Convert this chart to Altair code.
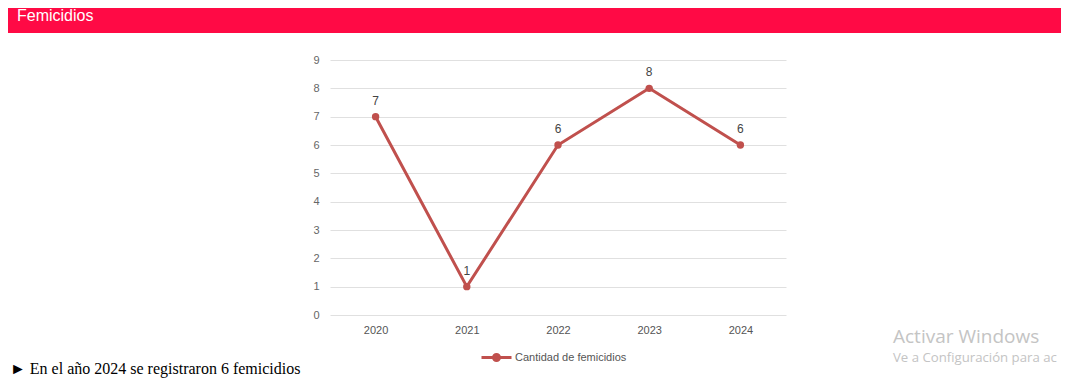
import altair as alt
import pandas as pd

# ---- data ----
years = ["2020", "2021", "2022", "2023", "2024"]
values = [7, 1, 6, 8, 6]
series_name = "Cantidad de femicidios"
y_ticks = [0, 1, 2, 3, 4, 5, 6, 7, 8, 9]
header_title = ["Femicidios"]
footer_text = ["\u25BA En el a\u00f1o 2024 se registraron 6 femicidios"]
watermark_1 = ["Activar Windows"]
watermark_2 = ["Ve a Configuraci\u00f3n para ac"]

LINE = "#C0504D"
FONT = "Liberation Sans"

df = pd.DataFrame({"Año": years, "Femicidios": values, "Serie": [series_name] * len(years)})

base = alt.Chart(df).encode(
    x=alt.X(
        "Año:O",
        scale=alt.Scale(type="point", padding=0.5),
        axis=alt.Axis(title=None, labelAngle=0, ticks=False, domain=False, grid=False,
                      labelPadding=9, labelFontSize=11, labelColor="#555", labelFont=FONT),
    ),
    y=alt.Y(
        "Femicidios:Q",
        scale=alt.Scale(domain=[0, 9], nice=False),
        axis=alt.Axis(title=None, values=y_ticks, ticks=False, domain=False, grid=True,
                      gridColor="#E0E0E0", labelPadding=11, labelFontSize=11,
                      labelColor="#666", labelFont=FONT),
    ),
)

legend_path = ("M-1,0L1,0M-0.2,0A0.2,0.2,0,1,1,0.2,0A0.2,0.2,0,1,1,-0.2,0Z")

line = base.mark_line(strokeWidth=3, point=alt.OverlayMarkDef(size=55, filled=True, color=LINE)).encode(
    color=alt.Color(
        "Serie:N",
        scale=alt.Scale(range=[LINE]),
        legend=alt.Legend(
            title=None, orient="none", legendX=150, legendY=281, padding=0,
            labelFontSize=11, labelColor="#555", labelFont=FONT, labelOffset=2,
            symbolType=legend_path, symbolSize=900, symbolStrokeWidth=3,
            symbolFillColor=LINE, symbolStrokeColor=LINE,
        ),
    )
)

labels = base.mark_text(dy=-16, fontSize=12, color="#444", font=FONT).encode(text="Femicidios:Q")

header_rect = alt.Chart(pd.DataFrame({"t": header_title})).mark_rect(color="#FF0A45").encode(
    x=alt.value(-322), x2=alt.value(731), y=alt.value(-52), y2=alt.value(-27)
)
header_text = alt.Chart(pd.DataFrame({"t": header_title})).mark_text(
    align="left", baseline="alphabetic", fontSize=16, font=FONT, color="white"
).encode(x=alt.value(-313), y=alt.value(-39), text="t:N")

footer = alt.Chart(pd.DataFrame({"t": footer_text})).mark_text(
    align="left", baseline="alphabetic", fontSize=16, font="Liberation Serif", color="black"
).encode(x=alt.value(-320), y=alt.value(314), text="t:N")

wm1 = alt.Chart(pd.DataFrame({"t": watermark_1})).mark_text(
    align="left", baseline="alphabetic", fontSize=19, font="Open Sans", color="#C4C4C4"
).encode(x=alt.value(563), y=alt.value(283), text="t:N")
wm2 = alt.Chart(pd.DataFrame({"t": watermark_2})).mark_text(
    align="left", baseline="alphabetic", fontSize=13.2, font="Open Sans", color="#C4C4C4"
).encode(x=alt.value(563), y=alt.value(302), text="t:N")

chart = alt.layer(header_rect, header_text, line, labels, footer, wm1, wm2).properties(
    width=456, height=255,
    autosize=alt.AutoSizeParams(type="none"),
    padding={"left": 322, "top": 52, "right": 275, "bottom": 63},
).configure_view(stroke=None)

chart.save("out.html", embed_options={"renderer": "svg", "actions": False})
